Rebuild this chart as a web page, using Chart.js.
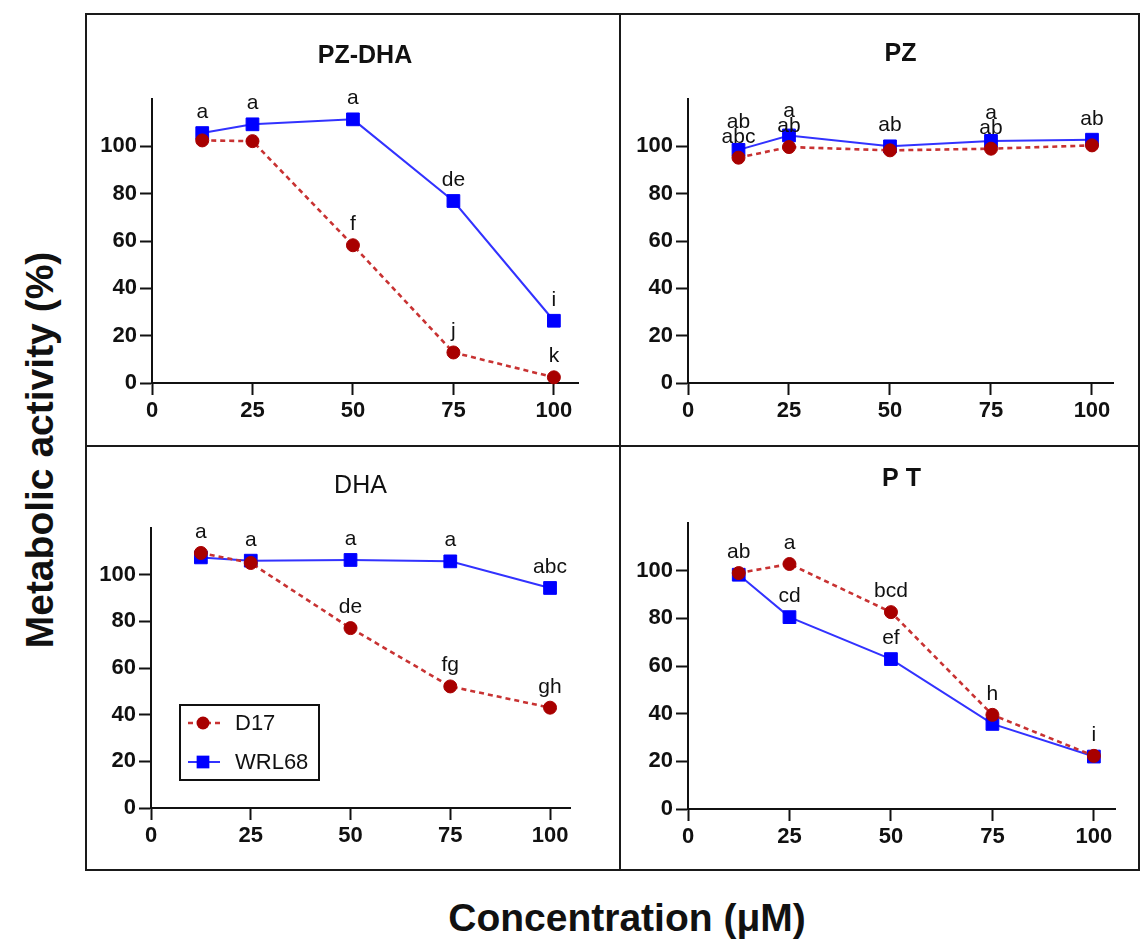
<!DOCTYPE html>
<html>
<head>
<meta charset="utf-8">
<script src="https://cdn.jsdelivr.net/npm/chart.js@4.4.1/dist/chart.umd.min.js"></script>
<style>
  body { margin: 0; background: #fff; width: 1141px; height: 940px; position: relative; overflow: hidden;
         font-family: "Liberation Sans", Arial, sans-serif; color: #111; }
  canvas { position: absolute; }
  .frame { position: absolute; left: 85px; top: 13px; width: 1055px; height: 858px; border: 2px solid #1a1a1a;
           box-sizing: border-box; pointer-events: none; }
  .vline { position: absolute; left: 619px; top: 13px; width: 2px; height: 858px; background: #1a1a1a; }
  .hline { position: absolute; left: 85px; top: 445px; width: 1055px; height: 2px; background: #1a1a1a; }
  #ylab { position: absolute; left: 40px; top: 450px; transform: translate(-50%, -50%) rotate(-90deg);
          font-weight: bold; font-size: 39px; white-space: nowrap; }
  #xlab { position: absolute; left: 627px; top: 918px; transform: translate(-50%, -50%);
          font-weight: bold; font-size: 39px; white-space: nowrap; }
</style>
</head>
<body>
<canvas id="c1" width="537" height="432" style="left:85px;top:14px"></canvas>
<canvas id="c2" width="519" height="432" style="left:622px;top:14px"></canvas>
<canvas id="c3" width="537" height="424" style="left:85px;top:446px"></canvas>
<canvas id="c4" width="519" height="424" style="left:622px;top:446px"></canvas>
<div class="frame"></div>
<div class="vline"></div>
<div class="hline"></div>
<div id="ylab">Metabolic activity (%)</div>
<div id="xlab">Concentration (μM)</div>
<script>
// concentrations (µM) and axis ticks
var CONC = [12.5, 25, 50, 75, 100];
var X_TICKS = [0, 25, 50, 75, 100];
var Y_TICKS = [0, 20, 40, 60, 80, 100];
var SERIES = ['D17', 'WRL68'];
var TITLES = ['PZ-DHA', 'PZ', 'DHA', 'P T'];

// metabolic activity (%)
var D17_PZDHA   = [102.5, 102.2, 58.2, 12.9, 2.4];
var WRL68_PZDHA = [105.6, 109.3, 111.4, 76.9, 26.3];
var D17_PZ      = [95.2, 99.7, 98.3, 99.0, 100.4];
var WRL68_PZ    = [98.5, 104.6, 100.0, 102.3, 102.8];
var D17_DHA     = [109.3, 105.0, 77.1, 52.1, 43.0];
var WRL68_DHA   = [107.4, 106.0, 106.3, 105.7, 94.3];
var D17_PT      = [99.0, 102.8, 82.6, 39.5, 22.3];
var WRL68_PT    = [98.3, 80.5, 62.9, 35.7, 22.0];

// significance letters
var D17_LET_PZDHA   = ['', '', 'f', 'j', 'k'];
var WRL68_LET_PZDHA = ['a', 'a', 'a', 'de', 'i'];
var D17_LET_PZ      = ['abc', 'ab', '', 'ab', ''];
var WRL68_LET_PZ    = ['ab', 'a', 'ab', 'a', 'ab'];
var D17_LET_DHA     = ['a', '', 'de', 'fg', 'gh'];
var WRL68_LET_DHA   = ['', 'a', 'a', 'a', 'abc'];
var D17_LET_PT      = ['ab', 'a', 'bcd', 'h', 'i'];
var WRL68_LET_PT    = ['', 'cd', 'ef', '', ''];

var FONT = '"Liberation Sans", Arial, sans-serif';
var INK = '#111';
var RED = '#a80000', RED_LINE = '#c83232';
var BLUE = '#0000ff', BLUE_LINE = '#3232ff';

var letterPlugin = {
    id: 'letters',
    afterDatasetsDraw: function(chart) {
        var ctx = chart.ctx;
        ctx.save();
        ctx.font = '21px ' + FONT;
        ctx.fillStyle = INK;
        ctx.textAlign = 'center';
        ctx.textBaseline = 'alphabetic';
        CONC.forEach(function(c, i) {
            var items = [];
            chart.data.datasets.forEach(function(ds, d) {
                var pt = chart.getDatasetMeta(d).data[i];
                if (ds.letters[i]) items.push({ text: ds.letters[i], x: pt.x, y: pt.y });
            });
            items.sort(function(a, b) { return b.y - a.y; });
            var prev = Infinity;
            items.forEach(function(it) {
                var base = Math.min(it.y - 15, prev - 15);
                ctx.fillText(it.text, it.x, base);
                prev = base;
            });
        });
        ctx.restore();
    }
};

var boxLegend = {
    id: 'boxLegend',
    afterDraw: function(chart, args, opts) {
        if (!opts.show) return;
        var ctx = chart.ctx;
        ctx.save();
        ctx.lineWidth = 2;
        ctx.strokeStyle = INK;
        ctx.strokeRect(opts.x, opts.y, opts.w, opts.h);
        chart.data.datasets.forEach(function(ds, i) {
            var cy = opts.y + opts.rows[i];
            ctx.strokeStyle = ds.borderColor;
            ctx.lineWidth = ds.borderWidth;
            ctx.setLineDash(ds.borderDash || []);
            ctx.beginPath();
            ctx.moveTo(opts.x + 8, cy);
            ctx.lineTo(opts.x + 40, cy);
            ctx.stroke();
            ctx.setLineDash([]);
            ctx.fillStyle = ds.pointBackgroundColor;
            var mx = opts.x + 23;
            if (ds.pointStyle === 'rect') {
                var s = ds.pointRadius * Math.SQRT1_2;
                ctx.fillRect(mx - s, cy - s, 2 * s, 2 * s);
            } else {
                ctx.beginPath();
                ctx.arc(mx, cy, ds.pointRadius, 0, Math.PI * 2);
                ctx.fill();
            }
            ctx.fillStyle = INK;
            ctx.font = '22px ' + FONT;
            ctx.textAlign = 'left';
            ctx.textBaseline = 'middle';
            ctx.fillText(ds.label, opts.x + 55, cy + 1);
        });
        ctx.restore();
    }
};

function pts(vals) {
    return CONC.map(function(c, i) { return { x: c, y: vals[i] }; });
}

// per-panel layout (canvas pixels)
var PANELS = [
    { id: 'c1', d17: D17_PZDHA, wrl: WRL68_PZDHA, l17: D17_LET_PZDHA, lw: WRL68_LET_PZDHA,
      xMax: 106, yW: 67, xH: 63, padR: 44, tTop: 27, tBot: 28, weight: 'bold' },
    { id: 'c2', d17: D17_PZ, wrl: WRL68_PZ, l17: D17_LET_PZ, lw: WRL68_LET_PZ,
      xMax: 105.2, yW: 66, xH: 63, padR: 28, tTop: 25, tBot: 30, weight: 'bold' },
    { id: 'c3', d17: D17_DHA, wrl: WRL68_DHA, l17: D17_LET_DHA, lw: WRL68_LET_DHA,
      xMax: 105, yW: 66, xH: 62, padR: 52, tTop: 25, tBot: 27, weight: 'normal',
      legend: { show: true, x: 95, y: 259, w: 139, h: 75, rows: [18, 57] } },
    { id: 'c4', d17: D17_PT, wrl: WRL68_PT, l17: D17_LET_PT, lw: WRL68_LET_PT,
      xMax: 105.2, yW: 66, xH: 61, padR: 26, tTop: 18, tBot: 29, weight: 'bold' }
];

PANELS.forEach(function(p, k) {
    var ctx = document.getElementById(p.id).getContext('2d');
    new Chart(ctx, {
        type: 'line',
        data: {
            datasets: [
                {
                    label: SERIES[0], data: pts(p.d17), letters: p.l17,
                    borderColor: RED_LINE, borderWidth: 2.6, borderDash: [5, 4],
                    pointStyle: 'circle', pointRadius: 6.5, pointBackgroundColor: RED,
                    pointBorderColor: RED, pointBorderWidth: 1, clip: false
                },
                {
                    label: SERIES[1], data: pts(p.wrl), letters: p.lw,
                    borderColor: BLUE_LINE, borderWidth: 2,
                    pointStyle: 'rect', pointRadius: 9, pointBackgroundColor: BLUE,
                    pointBorderColor: BLUE, pointBorderWidth: 1, clip: false
                }
            ]
        },
        options: {
            responsive: false,
            animation: false,
            devicePixelRatio: 1,
            layout: { padding: { left: 0, top: 0, right: p.padR, bottom: 0 } },
            plugins: {
                legend: { display: false },
                tooltip: { enabled: false },
                title: {
                    display: true, text: TITLES[k], fullSize: false, color: INK,
                    font: { family: FONT, size: 25, weight: p.weight, lineHeight: 1.2 },
                    padding: { top: p.tTop, bottom: p.tBot }
                },
                boxLegend: p.legend || { show: false }
            },
            scales: {
                x: {
                    type: 'linear', min: 0, max: p.xMax,
                    afterBuildTicks: function(s) { s.ticks = X_TICKS.map(function(v) { return { value: v }; }); },
                    afterFit: function(s) { s.height = p.xH; },
                    ticks: { font: { family: FONT, size: 22, weight: 'bold' }, color: INK, padding: 3, maxRotation: 0 },
                    grid: { drawOnChartArea: false, tickLength: 12, tickWidth: 2, tickColor: INK },
                    border: { width: 2, color: INK }
                },
                y: {
                    min: 0, max: 120,
                    afterBuildTicks: function(s) { s.ticks = Y_TICKS.map(function(v) { return { value: v }; }); },
                    afterFit: function(s) { s.width = p.yW; },
                    ticks: { font: { family: FONT, size: 22, weight: 'bold' }, color: INK, padding: 3 },
                    grid: { drawOnChartArea: false, tickLength: 12, tickWidth: 2, tickColor: INK },
                    border: { width: 2, color: INK }
                }
            }
        },
        plugins: [letterPlugin, boxLegend]
    });
});
</script>
</body>
</html>
